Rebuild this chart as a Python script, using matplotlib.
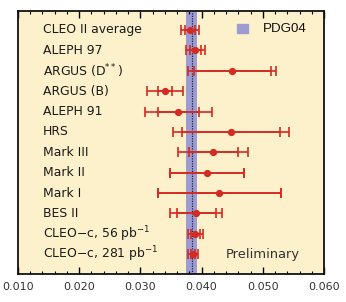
import matplotlib
matplotlib.use("Agg")
import matplotlib.pyplot as plt
from matplotlib.ticker import MultipleLocator, FormatStrFormatter
import matplotlib.transforms as mtransforms

labels = ["CLEO II average", "ALEPH 97", r"ARGUS (D$^{**}$)", "ARGUS (B)", "ALEPH 91",
          "HRS", "Mark III", "Mark II", "Mark I", "BES II",
          "CLEO\u2212c, 56 pb$^{-1}$", "CLEO\u2212c, 281 pb$^{-1}$"]
values = [0.0381, 0.0390, 0.0450, 0.0340, 0.0362, 0.0448, 0.0419, 0.0409, 0.0429, 0.0391, 0.0390, 0.0386]
stat_err = [0.0008, 0.0009, 0.0063, 0.0012, 0.0034, 0.0080, 0.0040, 0.0060, 0.0100, 0.0032, 0.0008, 0.0004]
total_err = [0.0014, 0.0015, 0.0072, 0.0030, 0.0055, 0.0095, 0.0057, 0.0060, 0.0100, 0.0042, 0.0012, 0.0008]
pdg_low, pdg_high, pdg_center = 0.0374, 0.0393, 0.0385
xticks = [0.010, 0.020, 0.030, 0.040, 0.050, 0.060]

red = "#d42a22"
fig = plt.figure(figsize=(3.46, 3.02), dpi=100)
ax = fig.add_axes([18/346, 1-274/302, 306/346, 263/302])
ax.set_facecolor("#fdf1cc")

ax.axvspan(pdg_low, pdg_high, color="#9c9cd2", zorder=1, lw=0)
ax.axvline(pdg_center, color="#202040", lw=0.9, ls=(0, (1, 1)), zorder=2)

ypos = list(range(len(labels)))
ax.errorbar(values, ypos, xerr=total_err, fmt="o", color=red, ms=4.2, lw=1.2,
            capsize=3.5, capthick=1.2, zorder=3)
ax.errorbar(values, ypos, xerr=stat_err, fmt="none", ecolor=red, lw=1.2,
            capsize=3.5, capthick=1.2, zorder=3)

trans = mtransforms.blended_transform_factory(ax.transAxes, ax.transData)
for y, lab in zip(ypos, labels):
    ax.text(25/306, y, lab, transform=trans, ha="left", va="center",
            fontsize=8.9, color="#1a1a1a", family="DejaVu Sans")

ax.text((263-18)/306, 1-(29-11)/263, "PDG04", transform=ax.transAxes, ha="left",
        va="center", fontsize=9.6, family="Liberation Sans", color="#111111")
ax.add_patch(plt.Rectangle(((237-18)/306, 1-(33-11)/263), 11/306, 9/263,
                           transform=ax.transAxes, color="#9c9cd2", zorder=4))
ax.text((226-18)/306, 11, "Preliminary", transform=trans, ha="left", va="center",
        fontsize=9.4, color="#333333", family="DejaVu Sans")

ax.set_xlim(0.010, 0.060)
ax.set_ylim(len(labels) - 0.03, -0.93)
ax.set_xticks(xticks)
ax.xaxis.set_major_formatter(FormatStrFormatter("%.3f"))
ax.xaxis.set_minor_locator(MultipleLocator(0.002))
ax.set_yticks([])
ax.tick_params(axis="x", which="major", direction="in", top=True, bottom=True,
               length=5, width=1, labelsize=8.0, labelcolor="#333333", pad=5.5)
ax.tick_params(axis="x", which="minor", direction="in", top=True, bottom=True,
               length=2.5, width=0.8)
for s in ax.spines.values():
    s.set_linewidth(1.3)
    s.set_color("#111111")

fig.savefig("out.png", dpi=100)
